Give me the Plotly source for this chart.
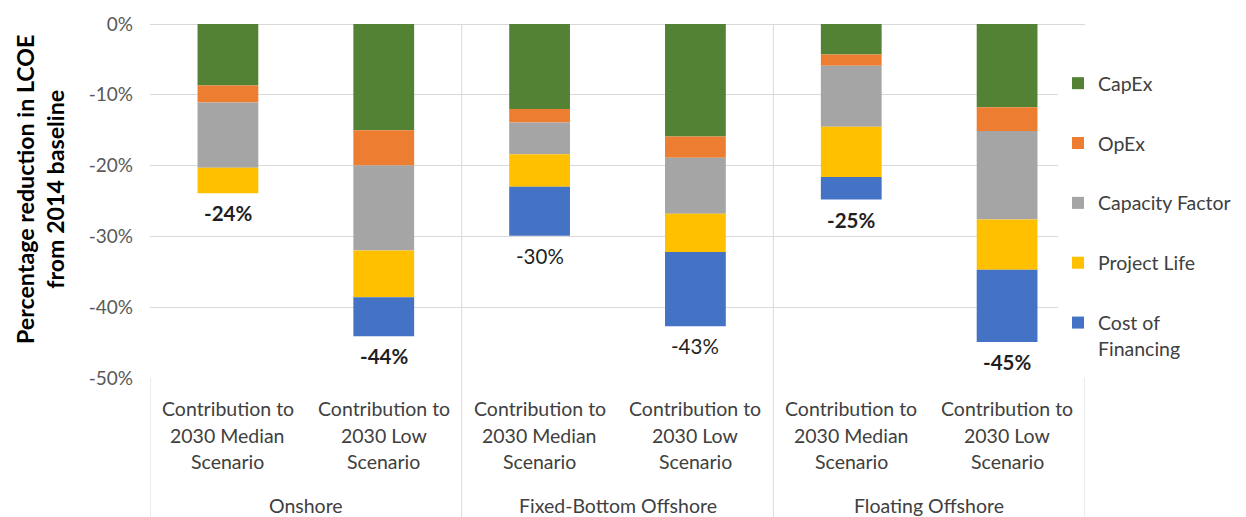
import plotly.graph_objects as go

# ---------------- data ----------------
groups = ["Onshore", "Fixed-Bottom Offshore", "Floating Offshore"]
bar_group = [0, 0, 1, 1, 2, 2]
categories = [
    "Contribution to|2030 Median|Scenario",
    "Contribution to|2030 Low|Scenario",
    "Contribution to|2030 Median|Scenario",
    "Contribution to|2030 Low|Scenario",
    "Contribution to|2030 Median|Scenario",
    "Contribution to|2030 Low|Scenario",
]

capex = [-8.7, -15.0, -12.0, -15.9, -4.3, -11.75]
opex = [-2.4, -5.0, -1.9, -3.0, -1.6, -3.35]
capacity_factor = [-9.2, -12.0, -4.5, -7.9, -8.6, -12.5]
project_life = [-3.6, -6.6, -4.6, -5.4, -7.1, -7.1]
cost_of_financing = [0.0, -5.5, -6.9, -10.5, -3.2, -10.2]

y_tick_values = [0, -10, -20, -30, -40, -50]
y_tick_labels = ["0%", "-10%", "-20%", "-30%", "-40%", "-50%"]

series_names = ["CapEx", "OpEx", "Capacity Factor", "Project Life", "Cost of<br>Financing"]
series_values = [capex, opex, capacity_factor, project_life, cost_of_financing]
series_colors = ["#548235", "#ED7D31", "#A5A5A5", "#FFC000", "#4472C4"]
label_bold = [True, True, False, False, True, True]

# ---------------- figure ----------------
FONT = "Lato"
W, H = 1246, 517
OFF = 8  # page body margin offset
# target page pixel positions of plot area: left 150, right 1085, top 24, bottom 378
ML = 150 - OFF
MT = 24 - OFF
MR = W - (1085 - OFF)
MB = H - (378 - OFF)
PH = H - MT - MB
PW = W - ML - MR


def py(page_px):
    """page pixel y -> paper coordinate"""
    return (H - MB - (page_px - OFF)) / PH


def px(page_px):
    return ((page_px - OFF) - ML) / PW


x = list(range(len(categories)))
fig = go.Figure()
for i, (name, vals, col) in enumerate(zip(series_names, series_values, series_colors)):
    fig.add_trace(go.Bar(
        x=x, y=vals, name=name, width=0.39,
        marker=dict(color=col, line=dict(width=0)),
        legendgroup=f"g{i}", hoverinfo="skip",
    ))

totals = [sum(v[k] for v in series_values) for k in range(len(categories))]
annotations = []
for k, t in enumerate(totals):
    txt = f"{round(t):.0f}%"
    if label_bold[k]:
        txt = f"<b>{txt}</b>"
    annotations.append(dict(x=k, y=t, xref="x", yref="y", text=txt, showarrow=False,
                            yanchor="top", yshift=-6,
                            font=dict(family=FONT, size=20.5, color="#1f1f1f")))

line_pix = [408, 435, 461]
for k, lab in enumerate(categories):
    for j, line in enumerate(lab.split("|")):
        annotations.append(dict(x=k, y=py(line_pix[j]), xref="x", yref="paper", text=line,
                                showarrow=False, yanchor="middle",
                                font=dict(family=FONT, size=19.5, color="#404040")))

for g, name in enumerate(groups):
    xs = [k for k in x if bar_group[k] == g]
    annotations.append(dict(x=sum(xs) / len(xs), y=py(505), xref="x", yref="paper", text=name,
                            showarrow=False, yanchor="middle",
                            font=dict(family=FONT, size=19.5, color="#404040")))

annotations.append(dict(x=px(40), y=py(190), xref="paper", yref="paper",
                        text="<b>Percentage reduction in LCOE<br>from 2014 baseline</b>",
                        textangle=-90, showarrow=False, xanchor="center", yanchor="middle",
                        font=dict(family=FONT, size=23.2, color="#000000")))

shapes = []
bottom = py(H + OFF)
for sx in [1.5, 3.5]:
    shapes.append(dict(type="line", xref="x", yref="paper", x0=sx, x1=sx, y0=1, y1=bottom,
                       line=dict(color="#d9d9d9", width=1)))
for sx in [-0.5, 5.5]:
    shapes.append(dict(type="line", xref="x", yref="paper", x0=sx, x1=sx, y0=0, y1=bottom,
                       line=dict(color="#d9d9d9", width=1)))

fig.update_layout(
    width=W, height=H,
    margin=dict(l=ML, r=MR, t=MT, b=MB, autoexpand=False),
    barmode="relative",
    plot_bgcolor="white", paper_bgcolor="white",
    font=dict(family=FONT, size=19, color="#595959"),
    xaxis=dict(range=[-0.5, 5.5], showticklabels=False, showgrid=False, zeroline=False,
               showline=False, ticks="", automargin=False),
    yaxis=dict(range=[-50, 0], tickmode="array", tickvals=y_tick_values, ticktext=y_tick_labels,
               showgrid=True, gridcolor="#d9d9d9",
               gridwidth=1, zeroline=True, zerolinecolor="#d9d9d9", zerolinewidth=1,
               showline=False, ticklabelstandoff=16, automargin=False,
               tickfont=dict(family=FONT, size=19, color="#595959")),
    legend=dict(x=px(1058), xanchor="left", y=py(64), yanchor="top",
                font=dict(family=FONT, size=19.5, color="#404040"), tracegroupgap=31.5,
                valign="top", bgcolor="white", traceorder="grouped"),
    annotations=annotations, shapes=shapes,
    showlegend=True,
)

fig.write_html("out.html")
